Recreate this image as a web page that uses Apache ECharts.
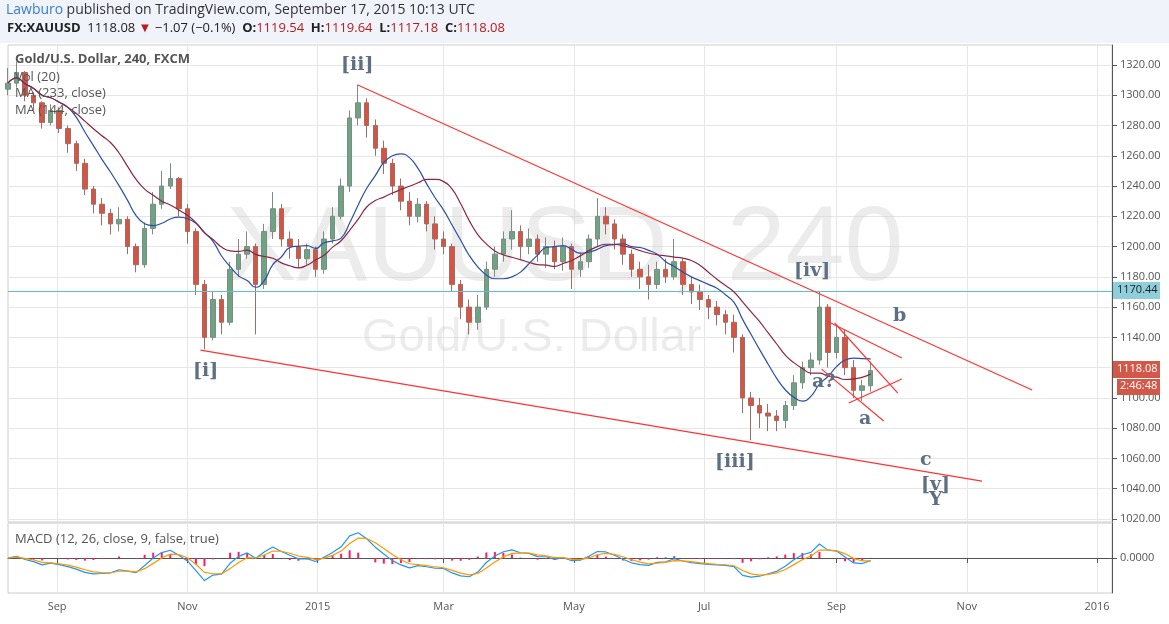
<!DOCTYPE html>
<html>
<head>
<meta charset="utf-8">
<script src="https://cdn.jsdelivr.net/npm/echarts@6/dist/echarts.min.js"></script>
<style>
html,body{margin:0;padding:0;background:#f0f3fa;}
#main{width:1169px;height:624px;}
</style>
</head>
<body>
<div id="main"></div>
<script>
// 4h gold chart, resampled to one candle every 4 days
var startDate = Date.UTC(2014, 7, 9);
var DAY = 86400000;
var closes = [1308,1315,1300,1295,1282,1290,1278,1268,1255,1238,1228,1222,1215,1218,1200,1188,1212,1228,1240,1245,
  1225,1210,1175,1140,1165,1150,1185,1195,1200,1175,1210,1225,1205,1200,1192,1198,1185,1205,1220,1240,
  1285,1295,1280,1265,1255,1240,1230,1220,1228,1215,1205,1200,1175,1160,1150,1160,1185,1195,1205,1210,
  1200,1205,1195,1200,1190,1200,1185,1190,1205,1220,1215,1205,1195,1185,1180,1175,1185,1180,1190,1175,
  1170,1165,1160,1155,1150,1140,1100,1095,1090,1088,1085,1095,1110,1120,1125,1160,1130,1140,1120,1105,
  1108,1118];
var highs = [1318,1322,1316,1302,1296,1294,1292,1280,1270,1258,1240,1232,1225,1226,1220,1202,1216,1236,1250,1255,
  1246,1228,1212,1178,1170,1168,1190,1205,1210,1202,1215,1236,1228,1210,1205,1202,1200,1210,1226,1245,
  1290,1307,1298,1284,1270,1258,1245,1236,1232,1230,1220,1210,1202,1178,1165,1168,1190,1200,1210,1224,
  1214,1212,1208,1206,1204,1206,1202,1196,1208,1232,1226,1218,1208,1198,1190,1188,1190,1192,1205,1192,
  1180,1175,1168,1164,1158,1155,1142,1104,1100,1096,1092,1098,1115,1124,1130,1170,1162,1148,1145,1125,
  1112,1124];
var lows = [1300,1305,1296,1290,1278,1280,1275,1262,1250,1234,1222,1214,1208,1210,1195,1183,1186,1208,1225,1238,
  1220,1202,1168,1132,1138,1142,1148,1180,1192,1142,1172,1205,1200,1192,1186,1188,1180,1182,1202,1218,
  1236,1280,1272,1260,1248,1234,1224,1214,1216,1210,1198,1195,1170,1152,1142,1145,1158,1180,1190,1198,
  1192,1195,1190,1186,1185,1184,1172,1180,1186,1200,1208,1198,1188,1180,1172,1165,1172,1176,1178,1168,
  1162,1158,1152,1148,1142,1130,1090,1072,1080,1078,1078,1080,1092,1106,1115,1122,1120,1126,1115,1100,
  1098,1104];
var xTicks = ['2014-09-01','2014-11-01','2015-01-01','2015-03-01','2015-05-01','2015-07-01','2015-09-01','2015-11-01','2016-01-01'];
var priceTicks = [1020,1040,1060,1080,1100,1120,1140,1160,1180,1200,1220,1240,1260,1280,1300,1320];
// trend lines: [day offset from start, price]
var trendLines = [
  [[163.8,1306.8],[479.6,1105.2]],
  [[90.1,1131.6],[456.1,1045.0]],
  [[383.4,1150.8],[418.6,1126.4]],
  [[387.1,1149.5],[416.7,1103.2]],
  [[381.0,1119.0],[410.1,1084.7]],
  [[393.7,1096.6],[418.6,1112.5]]
];
var resistance = 1170.44;

function dayToTime(d) { return startDate + d * DAY; }

var candles = [], dates = [];
for (var i = 0; i < closes.length; i++) {
  var o = i === 0 ? closes[0] - 4 : closes[i - 1];
  dates.push(dayToTime(i * 4));
  candles.push([dates[i], o, closes[i], lows[i], highs[i]]);
}

function sma(n) {
  var out = [];
  for (var i = 0; i < closes.length; i++) {
    var s = 0, c = 0;
    for (var j = Math.max(0, i - n + 1); j <= i; j++) { s += closes[j]; c++; }
    out.push([dates[i], +(s / c).toFixed(2)]);
  }
  return out;
}
function ema(arr, n) {
  var k = 2 / (n + 1), out = [arr[0]];
  for (var i = 1; i < arr.length; i++) out.push(arr[i] * k + out[i - 1] * (1 - k));
  return out;
}
var e12 = ema(closes, 3), e26 = ema(closes, 6);
var macd = e12.map(function (v, i) { return v - e26[i]; });
var signal = ema(macd, 3);
var macdLine = macd.map(function (v, i) { return [dates[i], v]; });
var sigLine = signal.map(function (v, i) { return [dates[i], v]; });
var hist = macd.map(function (v, i) { return [dates[i], v - signal[i]]; });

var trendSeries = trendLines.map(function (l) {
  return {
    type: 'line', xAxisIndex: 0, yAxisIndex: 0, symbol: 'none', silent: true, z: 6,
    lineStyle: { color: '#ff3333', width: 1.2 },
    data: l.map(function (p) { return [dayToTime(p[0]), p[1]]; })
  };
});

var months = ['Jan','Feb','Mar','Apr','May','Jun','Jul','Aug','Sep','Oct','Nov','Dec'];
function fmtX(v) {
  var d = new Date(v);
  return d.getUTCMonth() === 0 ? String(d.getUTCFullYear()) : months[d.getUTCMonth()];
}
var xTickVals = xTicks.map(function (s) { return Date.parse(s + 'T00:00:00Z'); });
var xMin = Date.UTC(2014, 7, 9), xMax = Date.UTC(2016, 0, 8);

var myChart = echarts.init(document.getElementById('main'));
function t(x, y, s) {
  return { type: 'text', left: x, top: y, z: 20, style: { text: s, fill: '#5d6f82', font: 'bold 19px "DejaVu Serif"' } };
}
var option = {
  backgroundColor: '#ffffff',
  animation: false,
  grid: [
    { left: 8, right: 57, top: 45, height: 477, show: true, borderColor: '#cccccc', borderWidth: 1 },
    { left: 8, right: 57, top: 523, height: 70, show: true, borderColor: '#cccccc', borderWidth: 1 }
  ],
  xAxis: [
    { type: 'value', gridIndex: 0, min: xMin, max: xMax,
      axisLine: { show: false }, axisTick: { show: false, customValues: xTickVals },
      axisLabel: { show: false, customValues: xTickVals },
      splitLine: { show: true, lineStyle: { color: '#e6e6e6' } } },
    { type: 'value', gridIndex: 1, min: xMin, max: xMax,
      axisLine: { lineStyle: { color: '#555' } }, axisTick: { show: true, customValues: xTickVals, lineStyle: { color: '#555' } },
      axisLabel: { customValues: xTickVals, formatter: fmtX, color: '#555', fontSize: 11, fontFamily: 'Open Sans' },
      splitLine: { show: true, lineStyle: { color: '#e6e6e6' } } }
  ],
  yAxis: [
    { type: 'value', gridIndex: 0, position: 'right', min: 1018, max: 1333.2,
      axisLine: { show: true, lineStyle: { color: '#555' } },
      axisTick: { show: true, customValues: priceTicks, lineStyle: { color: '#555' } },
      axisLabel: { customValues: priceTicks, color: '#555', fontSize: 11, fontFamily: 'Open Sans',
        formatter: function (v) { return v.toFixed(2); } },
      splitLine: { show: true, lineStyle: { color: '#e6e6e6' } } },
    { type: 'value', gridIndex: 1, position: 'right', min: -32, max: 32,
      axisLine: { show: true, lineStyle: { color: '#555' } },
      axisTick: { show: true, customValues: [0], lineStyle: { color: '#555' } },
      axisLabel: { customValues: [0], color: '#555', fontSize: 11, fontFamily: 'Open Sans',
        formatter: function () { return '0.0000'; } },
      splitLine: { show: false } }
  ],
  graphic: [
    { type: 'rect', left: 0, top: 0, shape: { width: 1169, height: 43 }, style: { fill: '#f0f3fa' }, z: 15 },
    { type: 'text', left: 6, top: 3, z: 20, style: { rich: {
        a: { fill: '#3a7dd2', font: '14px "Open Sans"' }, b: { fill: '#333', font: '14px "Open Sans"' } },
      text: '{a|Lawburo} {b|published on TradingView.com, September 17, 2015 10:13 UTC}' } },
    { type: 'text', left: 7, top: 22, z: 20, style: { rich: {
        k: { fill: '#222', font: 'bold 13px "Open Sans"' }, v: { fill: '#222', font: '13px "Open Sans"' },
        r: { fill: '#b71c1c', font: '13px "Open Sans"' } },
      text: '{k|FX:XAUUSD}  {v|1118.08} {r|▼} {v|−1.07 (−0.1%)}  {k|O:}{r|1119.54}  {k|H:}{r|1119.64}  {k|L:}{r|1117.18}  {k|C:}{r|1118.08}' } },
    { type: 'text', left: 226, top: 198, z: 1, silent: true, style: { text: 'XAUUSD, 240', fill: 'rgba(200,200,200,0.35)', font: '106px "Liberation Sans"' } },
    { type: 'text', left: 362, top: 315, z: 1, silent: true, style: { text: 'Gold/U.S. Dollar', fill: 'rgba(200,200,200,0.35)', font: '47px "Liberation Sans"' } },
    { type: 'text', left: 15, top: 53, z: 20, style: { text: 'Gold/U.S. Dollar, 240, FXCM', fill: '#555', font: 'bold 13px "Open Sans"' } },
    { type: 'text', left: 15, top: 71, z: 20, style: { text: 'Vol (20)', fill: '#555', font: '13px "Open Sans"' } },
    { type: 'text', left: 15, top: 87, z: 20, style: { text: 'MA (233, close)', fill: '#555', font: '13px "Open Sans"' } },
    { type: 'text', left: 15, top: 104, z: 20, style: { text: 'MA (144, close)', fill: '#555', font: '13px "Open Sans"' } },
    { type: 'text', left: 15, top: 533, z: 20, style: { text: 'MACD (12, 26, close, 9, false, true)', fill: '#555', font: '13px "Open Sans"' } },
    t(341, 56, '[ii]'), t(193, 362, '[i]'), t(715, 453, '[iii]'), t(794, 262, '[iv]'),
    t(893, 307, 'b'), t(812, 373, 'a?'), t(859, 410, 'a'), t(920, 451, 'c'), t(921, 476, '[v]'), t(929, 491, 'Y'),
    { type: 'rect', left: 1113, top: 282, z: 20, shape: { width: 47, height: 17 }, style: { fill: '#8fcfdc' } },
    { type: 'text', left: 1117, top: 284, z: 21, style: { text: '1170.44', fill: '#222', font: '11px "Open Sans"' } },
    { type: 'rect', left: 1113, top: 361, z: 20, shape: { width: 47, height: 17 }, style: { fill: '#d2584a' } },
    { type: 'text', left: 1117, top: 363, z: 21, style: { text: '1118.08', fill: '#fff', font: '11px "Open Sans"' } },
    { type: 'rect', left: 1117, top: 379, z: 20, shape: { width: 43, height: 16 }, style: { fill: '#d2584a' } },
    { type: 'text', left: 1120, top: 380, z: 21, style: { text: '2:46:48', fill: '#fff', font: '11px "Open Sans"' } }
  ],
  series: [
    { type: 'candlestick', xAxisIndex: 0, yAxisIndex: 0, barWidth: 5, z: 4,
      encode: { x: 0, y: [1, 2, 3, 4] },
      itemStyle: { color: '#6ba583', color0: '#d75442', borderColor: '#7f8a82', borderColor0: '#a06c66' },
      data: candles,
      markLine: { symbol: 'none', silent: true, label: { show: false },
        lineStyle: { color: '#5bc0de', type: 'solid', width: 1 }, data: [{ yAxis: resistance }] } },
    { type: 'line', xAxisIndex: 0, yAxisIndex: 0, symbol: 'none', smooth: true, z: 5,
      lineStyle: { color: '#2a4fa8', width: 1.2 }, data: sma(8) },
    { type: 'line', xAxisIndex: 0, yAxisIndex: 0, symbol: 'none', smooth: true, z: 5,
      lineStyle: { color: '#8b2743', width: 1.2 }, data: sma(13) },
    { type: 'bar', xAxisIndex: 1, yAxisIndex: 1, barWidth: 2, itemStyle: { color: '#ff1a6a' }, data: hist },
    { type: 'line', xAxisIndex: 1, yAxisIndex: 1, symbol: 'none', lineStyle: { color: '#2196f3', width: 1.2 }, data: macdLine },
    { type: 'line', xAxisIndex: 1, yAxisIndex: 1, symbol: 'none', lineStyle: { color: '#ff9800', width: 1.2 }, data: sigLine }
  ].concat(trendSeries)
};
myChart.setOption(option);
</script>
</body>
</html>
